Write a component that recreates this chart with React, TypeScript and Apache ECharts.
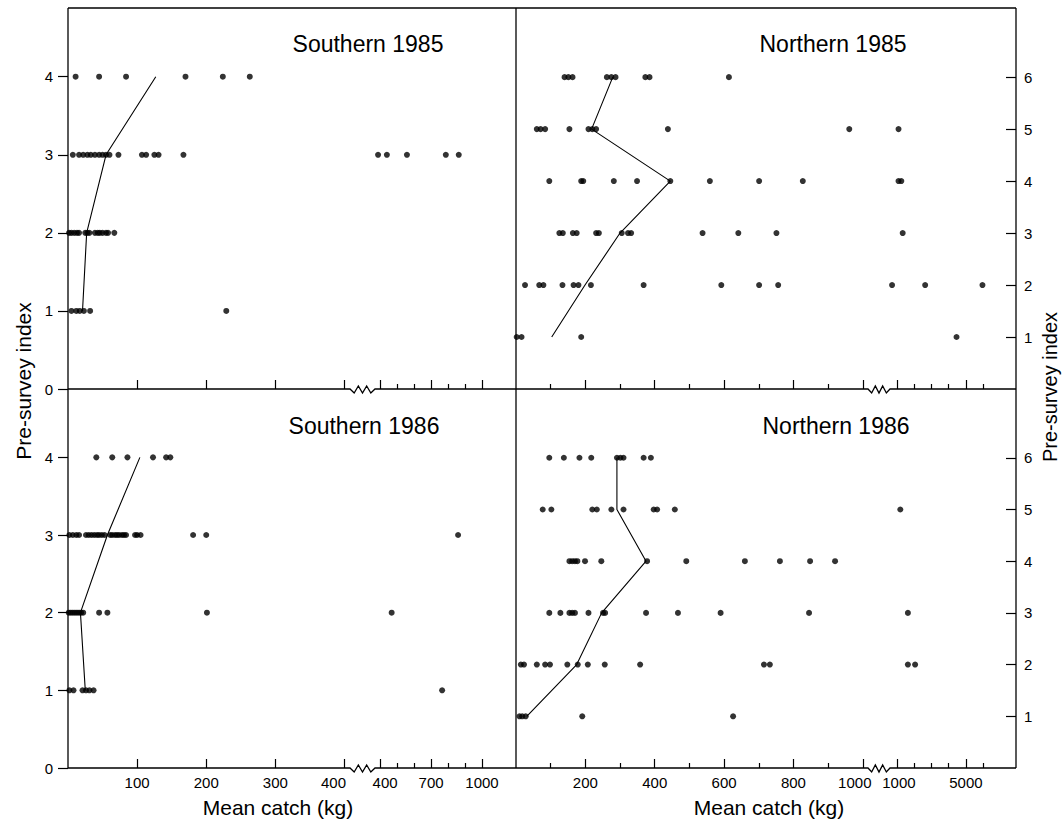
import React, { useEffect, useRef } from "react";
import * as echarts from "echarts";

type Rows = Array<[number, number[]]>;

// ---- Southern 1985 (pre-survey index 1..4) ----
const south85Low: Rows = [
  [4, [11, 45, 84, 170, 224, 263]],
  [3, [7, 16, 22, 28, 33, 39, 45, 50, 55, 60, 73, 107, 113, 125, 131, 167]],
  [2, [1.5, 5, 9, 13, 16, 25, 28, 31, 39, 43, 46, 50, 55, 58, 67]],
  [1, [5, 12, 17, 23, 32, 229]],
];
const south85High: Rows = [[3, [388, 440, 558, 787, 863]]];
const south85Mean = [21, 27, 55, 127];

// ---- Southern 1986 ----
const south86Low: Rows = [
  [4, [41, 64, 86, 123, 142, 148]],
  [3, [2, 7, 12, 16, 26, 30, 34, 38, 42, 45, 49, 53, 61, 64, 68, 71, 74, 78, 81, 84, 97, 100, 105, 181, 200]],
  [2, [1, 4, 7, 10, 13, 16, 19, 22, 45, 57, 201]],
  [1, [2, 8, 21, 26, 31, 37]],
];
const south86High: Rows = [[3, [859]], [2, [468]], [1, [765]]];
const south86Mean = [25, 18, 57, 104];

// ---- Northern 1985 (pre-survey index 1..6) ----
const north85Low: Rows = [
  [6, [140, 151, 163, 262, 275, 287, 373, 385, 614]],
  [5, [60, 71, 84, 154, 209, 220, 231, 438, 961]],
  [4, [96, 188, 194, 282, 349, 445, 559, 701, 827]],
  [3, [125, 135, 164, 175, 231, 239, 305, 323, 332, 538, 641, 751]],
  [2, [26, 67, 79, 134, 166, 180, 216, 368, 592, 701, 756]],
  [1, [2, 16, 188]],
];
const north85High: Rows = [[5, [1094]], [4, [1094, 1254]], [3, [1334]], [2, [720, 2637, 5957]], [1, [4454]]];
const north85Mean = [103, 199, 300, 445, 218, 279];

// ---- Northern 1986 ----
const north86Low: Rows = [
  [6, [96, 138, 183, 217, 291, 301, 310, 368, 389]],
  [5, [77, 102, 220, 233, 275, 310, 397, 407, 458]],
  [4, [154, 162, 170, 177, 199, 246, 378, 491, 660, 761, 848, 920]],
  [3, [96, 128, 154, 162, 170, 209, 251, 257, 375, 467, 590, 845]],
  [2, [14, 23, 60, 84, 98, 148, 178, 207, 256, 358, 715, 732]],
  [1, [10, 18, 28, 191, 626]],
];
const north86High: Rows = [[5, [1197]], [3, [1637]], [2, [1637, 2054]]];
const north86Mean = [31, 175, 247, 375, 291, 291];

// ---- Axis ticks ----
const southIndexTicks = [0, 1, 2, 3, 4];
const northIndexTicks = [1, 2, 3, 4, 5, 6];
const southLowMajor = [100, 200, 300, 400];
const southHighMajor = [400, 700, 1000];
const southHighMinor = [500, 600, 800, 900];
const northLowMajor = [200, 400, 600, 800, 1000];
const northLowMinor = [100, 300, 500, 700, 900];
const northHighMajor = [1000, 5000];
const northHighMinor = [2000, 3000, 4000, 6000];

const southLowRange = [0, 408];
const southHighRange = [370, 1200];
const northLowRange = [0, 1015];
const northHighRange = [600, 7900];
const southIndexMax = 4.88;
const northIndexMax = 7.33;

// ---- Layout ----
const TOP = 8, MID = 389, BOT = 768;
const LX = 68, DIV = 516, RX = 1016;
const L_ZS = 350, L_ZE = 375, R_ZS = 868, R_ZE = 890;
const FONT = '"Liberation Sans", Arial, Helvetica, sans-serif';

const toPairs = (rows: Rows) => rows.flatMap(([idx, vals]) => vals.map((v) => [v, idx]));

const richShift = (padL: number, padR: number) => ({
  padding: [0, padR, 0, padL],
  fontSize: 15,
  fontFamily: FONT,
  color: "#000",
});

function buildOption() {
  const panels = [
    { title: "Southern 1985", side: "south", row: 0, low: south85Low, high: south85High, mean: south85Mean },
    { title: "Northern 1985", side: "north", row: 0, low: north85Low, high: north85High, mean: north85Mean },
    { title: "Southern 1986", side: "south", row: 1, low: south86Low, high: south86High, mean: south86Mean },
    { title: "Northern 1986", side: "north", row: 1, low: north86Low, high: north86High, mean: north86Mean },
  ];
  const grid: any[] = [];
  const xAxis: any[] = [];
  const yAxis: any[] = [];
  const series: any[] = [];

  const xAx = (
    gridIndex: number,
    range: number[],
    ticks: number[],
    len: number,
    labels: boolean,
    shiftValue?: number
  ) => ({
    type: "value",
    gridIndex,
    min: range[0],
    max: range[1],
    position: "bottom",
    axisLine: { show: false, onZero: false },
    splitLine: { show: false },
    axisTick: { show: ticks.length > 0, inside: true, length: len, customValues: ticks, lineStyle: { color: "#000", width: 1.2 } },
    axisLabel: {
      show: labels,
      customValues: ticks,
      formatter: (v: number) => (v === shiftValue ? `{s|${v}}` : String(v)),
      color: "#000",
      fontSize: 15,
      fontFamily: FONT,
      margin: 7,
      rich: {},
    },
  });

  panels.forEach((p) => {
    const south = p.side === "south";
    const top = p.row === 0 ? TOP : MID;
    const height = p.row === 0 ? MID - TOP : BOT - MID;
    const yMax = south ? southIndexMax : northIndexMax;
    const showLabels = p.row === 1;
    const segs = south
      ? [
          { left: LX, width: L_ZS - LX, range: southLowRange, major: southLowMajor, minor: [] as number[], shift: 400, rich: richShift(0, 22) },
          { left: L_ZE, width: DIV - L_ZE, range: southHighRange, major: southHighMajor, minor: southHighMinor, shift: 400, rich: richShift(10, 0) },
        ]
      : [
          { left: DIV, width: R_ZS - DIV, range: northLowRange, major: northLowMajor, minor: northLowMinor, shift: 1000, rich: richShift(0, 16) },
          { left: R_ZE, width: RX - R_ZE, range: northHighRange, major: northHighMajor, minor: northHighMinor, shift: 1000, rich: richShift(4, 0) },
        ];
    const gIdx: number[] = [];
    segs.forEach((s, si) => {
      const g = grid.length;
      gIdx.push(g);
      grid.push({ left: s.left, top, width: s.width, height });
      const major: any = xAx(g, s.range, s.major, 9, showLabels, s.shift);
      major.axisLabel.rich = { s: s.rich };
      xAxis.push(major);
      xAxis.push(xAx(g, s.range, s.minor, 5, false));
      const visibleY = (south && si === 0) || (!south && si === 1);
      if (visibleY) {
        const ticks = south ? southIndexTicks : northIndexTicks;
        yAxis.push({
          type: "value",
          gridIndex: g,
          min: 0,
          max: yMax,
          position: south ? "left" : "right",
          axisLine: { show: false },
          splitLine: { show: false },
          axisTick: { show: true, inside: !south, length: 10, customValues: ticks, lineStyle: { color: "#000", width: 1.2 } },
          axisLabel: {
            customValues: ticks,
            formatter: (v: number) => String(v),
            color: "#000",
            fontSize: 15,
            fontFamily: FONT,
            margin: south ? 15 : 8,
          },
        });
      } else {
        yAxis.push({ type: "value", gridIndex: g, min: 0, max: yMax, show: false });
      }
    });
    const dot = { type: "scatter", symbol: "circle", symbolSize: 6, itemStyle: { color: "#000" }, silent: true };
    series.push({ ...dot, name: p.title, xAxisIndex: 2 * gIdx[0], yAxisIndex: gIdx[0], data: toPairs(p.low) });
    series.push({ ...dot, name: p.title + " high", xAxisIndex: 2 * gIdx[1], yAxisIndex: gIdx[1], data: toPairs(p.high) });
    series.push({
      type: "line",
      name: p.title + " mean",
      xAxisIndex: 2 * gIdx[0],
      yAxisIndex: gIdx[0],
      data: p.mean.map((v, i) => [v, i + 1]),
      symbol: "none",
      silent: true,
      lineStyle: { color: "#000", width: 1.1 },
    });
  });

  const zig = (zs: number, ze: number, y: number) => {
    const w = (ze - zs) / 6;
    return [
      [zs, y],
      [zs + w, y + 4],
      [zs + 2 * w, y - 3],
      [zs + 3 * w, y + 4],
      [zs + 4 * w, y - 3],
      [zs + 5 * w, y + 4],
      [ze, y],
    ];
  };
  const lineStyle = { stroke: "#000", lineWidth: 1.3, fill: "none" };
  const hLine = (y: number) => ({
    type: "polyline",
    silent: true,
    shape: { points: [[LX, y], ...zig(L_ZS, L_ZE, y), ...zig(R_ZS, R_ZE, y), [RX, y]] },
    style: lineStyle,
  });
  const vLine = (x: number) => ({
    type: "line",
    silent: true,
    shape: { x1: x, y1: TOP, x2: x, y2: BOT },
    style: lineStyle,
  });
  const text = (t: string, x: number, y: number, size: number, rotation = 0) => ({
    type: "text",
    silent: true,
    x,
    y,
    rotation,
    style: {
      text: t,
      fill: "#000",
      font: `${size}px ${FONT}`,
      textAlign: "center",
      textVerticalAlign: "middle",
      align: "center",
      verticalAlign: "middle",
    },
  });

  const graphic = [
    { type: "line", silent: true, shape: { x1: LX, y1: TOP, x2: RX, y2: TOP }, style: lineStyle },
    hLine(MID),
    hLine(BOT),
    vLine(LX),
    vLine(DIV),
    vLine(RX),
    text("Southern 1985", 368, 44, 23),
    text("Northern 1985", 833, 44, 23),
    text("Southern 1986", 364, 426, 23),
    text("Northern 1986", 836, 426, 23),
    text("Mean catch (kg)", 278, 807, 21),
    text("Mean catch (kg)", 769, 807, 21),
    text("Pre-survey index", 23, 381, 21, Math.PI / 2),
    text("Pre-survey index", 1050, 387, 20, Math.PI / 2),
  ];

  return {
    animation: false,
    backgroundColor: "#fff",
    grid,
    xAxis,
    yAxis,
    series,
    graphic,
  };
}

export default function App() {
  const ref = useRef<HTMLDivElement>(null);
  useEffect(() => {
    if (!ref.current) return;
    const chart = echarts.init(ref.current, undefined, { renderer: "svg" });
    chart.setOption(buildOption() as any);
    return () => chart.dispose();
  }, []);
  return <div ref={ref} style={{ position: "absolute", left: 0, top: 0, width: 1064, height: 820 }} />;
}
